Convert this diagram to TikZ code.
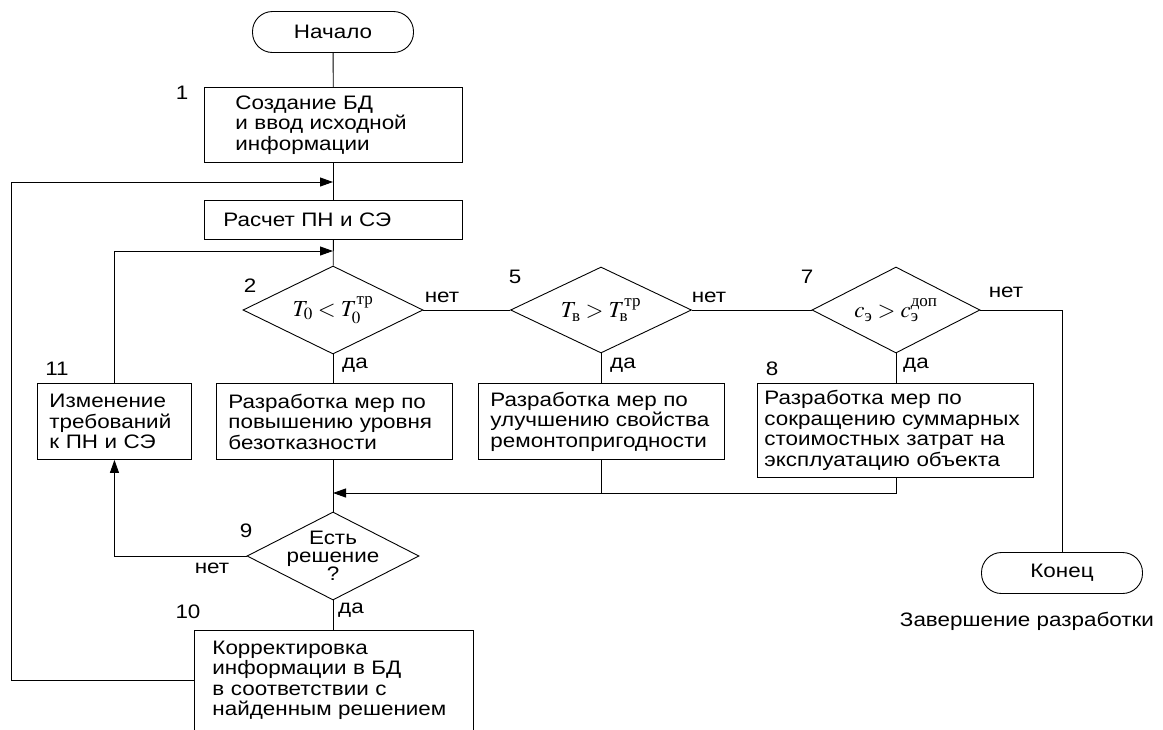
\documentclass[tikz,border=0pt]{standalone}
\usepackage{amsmath}
\usepackage{mathptmx}
\usepackage{fontspec}
\setmainfont{Liberation Sans}[FakeStretch=1.15]
\newfontfamily\tms{Liberation Serif}
\usetikzlibrary{arrows.meta}
\usetikzlibrary{shapes.geometric}
\usetikzlibrary{positioning}
\tikzset{term/.style = {draw, rounded corners = 20pt, minimum width = 161pt, minimum height = 41pt, inner sep = 0}}
\tikzset{proc/.style = {draw, anchor = north west, align = left, inner xsep = 12pt, inner ysep = 0}}
\tikzset{cond/.style = {draw, diamond, aspect = 2, inner sep = 0, font = \fontsize{23}{25}\selectfont}}
\tikzset{lbl/.style = {inner sep = 0, anchor = base}}
\tikzset{arr/.style = {-{Triangle[length = 13pt, width = 9pt]}}}
\begin{document}
\begin{tikzpicture}[x = 1pt, y = -1pt, line width = 0.9pt, font = \fontsize{19.5}{20.5}\selectfont]
      \useasboundingbox (0, 0) rectangle (1163, 729);
      % blocks
      \node [term] (start) at (333, 32) {Начало};
      \node [proc, text width = 196pt, minimum height = 75pt, inner xsep = 31pt] (b1) at (204, 87) {Создание БД\\и ввод исходной\\информации};
      \node [proc, text width = 220pt, minimum height = 39pt, inner xsep = 19pt] (calc) at (204, 200) {Расчет ПН и СЭ};
      \node [cond, minimum width = 180pt, minimum height = 88pt] (d2) at (333, 310) {$T_0 < T_0^{\text{\tms тр}}$};
      \node [cond, minimum width = 181pt, minimum height = 86pt] (d5) at (601, 310) {$T_{\text{\tms в}} > T_{\text{\tms в}}^{\text{\tms тр}}$};
      \node [cond, minimum width = 168pt, minimum height = 86pt] (d7) at (896, 310) {$c_{\text{\tms э}} > c_{\text{\tms э}}^{\text{\tms доп}}$};
      \node [proc, text width = 130pt, minimum height = 76pt] (b11) at (37, 383) {Изменение\\требований\\к ПН и СЭ};
      \node [proc, text width = 212pt, minimum height = 76pt] (b2) at (216, 383) {Разработка мер по\\повышению уровня\\безотказности};
      \node [proc, text width = 262pt, minimum height = 94pt, inner xsep = 7pt] (b8) at (757, 383) {Разработка мер по\\сокращению суммарных\\стоимостных затрат на\\эксплуатацию объекта};
      \node [proc, text width = 222pt, minimum height = 76pt] (b5) at (478, 383) {Разработка мер по\\улучшению свойства\\ремонтопригодности};
      \node [cond, minimum width = 172pt, minimum height = 88pt, inner sep = -7pt, align = center, font = \fontsize{19.5}{17.5}\selectfont] (d9) at (333, 556) {Есть\\решение\\?};
      \node [proc, text width = 243pt, minimum height = 100pt, inner xsep = 18pt] (b10) at (194, 630) {Корректировка\\информации в БД\\в соответствии с\\найденным решением};
      \node [term] (end) at (1062, 573) {Конец};
      \node [lbl] (fin) at (1027, 626) {Завершение разработки};
      % numbers
      \node [lbl] (n1) at (182, 99) {1};
      \node [lbl] (n2) at (250, 292) {2};
      \node [lbl] (n5) at (515, 283) {5};
      \node [lbl] (n7) at (807, 283) {7};
      \node [lbl] (n8) at (772, 375) {8};
      \node [lbl] (n9) at (246, 537) {9};
      \node [lbl] (n10) at (188, 618) {10};
      \node [lbl] (n11) at (57, 375) {11};
      % yes / no
      \node [lbl] (no2) at (442, 302) {нет};
      \node [lbl] (no5) at (709, 302) {нет};
      \node [lbl] (no7) at (1006, 297) {нет};
      \node [lbl] (no9) at (212, 573) {нет};
      \node [lbl] (yes2) at (355, 368) {да};
      \node [lbl] (yes5) at (623, 368) {да};
      \node [lbl] (yes7) at (916, 368) {да};
      \node [lbl] (yes9) at (351, 613) {да};
      % junctions
      \coordinate (in1) at (333, 182);
      \coordinate (in2) at (333, 251);
      \coordinate (lp) at (11, 182);
      \coordinate (join) at (333, 493);
      % lines
      \draw (start) -- (b1);
      \draw (b1) -- (calc);
      \draw (calc) -- (d2);
      \draw (d2.east) -- (d5.west);
      \draw (d5.east) -- (d7.west);
      \draw (d7.east) -| (end.north);
      \draw (d2.south) -- (d2.south |- b2.north);
      \draw (d5.south) -- (d5.south |- b5.north);
      \draw (d7.south) -- (d7.south |- b8.north);
      \draw (d9.north |- b2.south) -- (d9.north);
      \draw [arr] (d7.south |- b8.south) |- (join);
      \draw (d5.south |- b5.south) -- (d5.south |- join);
      \draw [arr] (d9.west) -| (b11.south);
      \draw [arr] (b11.north) |- (in2);
      \draw (d9.south) -- (d9.south |- b10.north);
      \draw [arr] (b10.west) -| (lp) -- (in1);
    \end{tikzpicture}
\end{document}
